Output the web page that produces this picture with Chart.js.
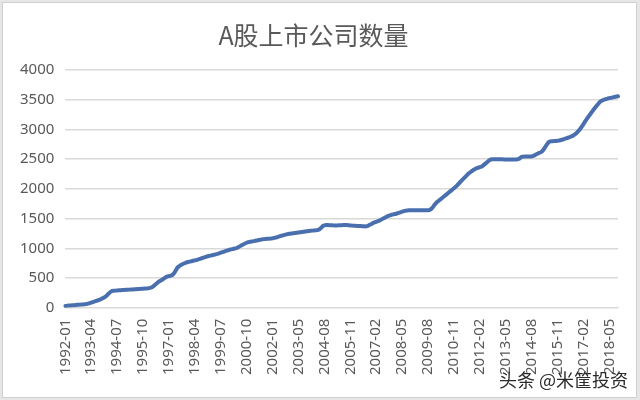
<!DOCTYPE html>
<html>
<head>
<meta charset="utf-8">
<script src="https://cdn.jsdelivr.net/npm/chart.js@4/dist/chart.umd.min.js"></script>
<style>
  body { margin: 0; background: #e6e6e6; }
  #frame { position: absolute; left: 2px; top: 2px; width: 633px; height: 394px; background: #fff; border: 1px solid #d0d0d0; }
  #wrap { position: absolute; left: 0; top: 0; width: 640px; height: 400px; }
  #mark { position: absolute; right: 12px; top: 366px; font: 18px "Noto Sans CJK SC", sans-serif; color: #2b2b2b; text-shadow: 0 0 2px #fff; }
</style>
</head>
<body>
<div id="frame"></div>
<div id="wrap"><canvas id="CountChart" width="640" height="400"></canvas></div>
<div id="mark">头条 @米筐投资</div>
<script>
// 月份：1992-01 ~ 2018-10（原数据缺 2002-12）
const years = [1992, 1993, 1994, 1995, 1996, 1997, 1998, 1999, 2000, 2001, 2002, 2003, 2004,
  2005, 2006, 2007, 2008, 2009, 2010, 2011, 2012, 2013, 2014, 2015, 2016, 2017, 2018];
const skipMonth = '2002-12';
const lastMonth = '2018-10';

// 每月上市公司数量
const counts = [
  30, 32, 35, 38, 40, 42, 45, 48, 50, 52, 55, 58,                      // 1992
  62, 68, 75, 85, 95, 105, 115, 125, 135, 150, 165, 180,               // 1993
  205, 235, 262, 280, 284, 287, 290, 292, 294, 296, 298, 300,          // 1994
  302, 304, 306, 308, 310, 312, 314, 316, 318, 320, 322, 324,          // 1995
  328, 334, 342, 360, 385, 410, 435, 452, 470, 490, 510, 525,          // 1996
  532, 537, 550, 580, 630, 678, 700, 720, 735, 748, 760, 768,          // 1997
  775, 782, 790, 797, 803, 812, 822, 832, 842, 852, 862, 870,          // 1998
  876, 883, 890, 898, 906, 915, 925, 935, 945, 955, 965, 975,          // 1999
  982, 988, 995, 1003, 1015, 1032, 1050, 1065, 1080, 1093, 1104, 1110, // 2000
  1115, 1120, 1126, 1132, 1138, 1144, 1150, 1154, 1157, 1159, 1161, 1164, // 2001
  1168, 1175, 1182, 1190, 1200, 1210, 1218, 1226, 1234, 1240, 1246,    // 2002
  1250, 1254, 1258, 1262, 1266, 1270, 1274, 1278, 1282, 1286, 1290, 1294, // 2003
  1297, 1300, 1303, 1308, 1315, 1340, 1373, 1385, 1390, 1390, 1389, 1388, // 2004
  1386, 1385, 1385, 1386, 1388, 1389, 1390, 1391, 1390, 1388, 1385, 1382, // 2005
  1380, 1378, 1376, 1375, 1374, 1372, 1370, 1368, 1375, 1390, 1405, 1422, // 2006
  1435, 1445, 1455, 1469, 1485, 1500, 1515, 1530, 1545, 1555, 1565, 1571, // 2007
  1575, 1585, 1595, 1605, 1615, 1625, 1632, 1636, 1639, 1640, 1640, 1640, // 2008
  1640, 1640, 1640, 1640, 1640, 1640, 1640, 1640, 1645, 1665, 1700, 1740, // 2009
  1772, 1795, 1818, 1842, 1866, 1890, 1914, 1938, 1962, 1986, 2010, 2034, // 2010
  2064, 2094, 2124, 2154, 2184, 2214, 2244, 2270, 2292, 2312, 2330, 2345, // 2011
  2355, 2365, 2373, 2395, 2420, 2445, 2470, 2490, 2498, 2500, 2500, 2500, // 2012
  2498, 2497, 2496, 2495, 2495, 2495, 2494, 2494, 2494, 2494, 2495, 2498, // 2013
  2510, 2535, 2542, 2543, 2543, 2543, 2543, 2545, 2555, 2570, 2585, 2600, // 2014
  2612, 2627, 2665, 2710, 2755, 2790, 2800, 2802, 2804, 2806, 2810, 2814, // 2015
  2822, 2830, 2840, 2850, 2860, 2870, 2881, 2895, 2915, 2940, 2970, 3005, // 2016
  3045, 3090, 3135, 3180, 3220, 3260, 3300, 3340, 3375, 3410, 3445, 3475, // 2017
  3490, 3500, 3510, 3520, 3527, 3532, 3540, 3547, 3553, 3559              // 2018
];

const yTicks = [0, 500, 1000, 1500, 2000, 2500, 3000, 3500, 4000];
const labelEvery = 15;

const labels = [];
for (const y of years) {
  for (let m = 1; m <= 12; m++) {
    const s = y + '-' + (m < 10 ? '0' + m : m);
    if (s === skipMonth) continue;
    labels.push(s);
    if (s === lastMonth) break;
  }
}

const ctx = document.getElementById('CountChart');
const myChart = new Chart(ctx, {
  type: 'line',
  data: {
    labels: labels,
    datasets: [{
      label: '上市公司数量',
      data: counts,
      borderColor: '#4a6fae',
      borderWidth: 4,
      borderCapStyle: 'round',
      borderJoinStyle: 'round',
      tension: 0,
      pointRadius: 0,
      fill: false
    }]
  },
  options: {
    responsive: false,
    animation: false,
    layout: { padding: { left: 9, right: 22, bottom: 14, top: 0 } },
    plugins: {
      legend: { display: false },
      tooltip: { enabled: false },
      title: {
        display: true,
        text: 'A股上市公司数量',
        color: '#595959',
        font: { family: '"Noto Sans CJK SC", sans-serif', size: 25, weight: 'normal' },
        padding: { top: 20, bottom: 20 }
      }
    },
    scales: {
      x: {
        offset: false,
        grid: { display: false, drawTicks: false },
        border: { display: true, color: '#d9d9d9' },
        ticks: {
          autoSkip: false,
          minRotation: 90,
          maxRotation: 90,
          padding: 11,
          color: '#595959',
          font: { family: '"Noto Sans", sans-serif', size: 15 },
          callback: function(v, i) { return i % labelEvery === 0 ? labels[i] : null; }
        }
      },
      y: {
        min: 0,
        max: 4000,
        afterBuildTicks: function(axis) { axis.ticks = yTicks.map(function(v){ return { value: v }; }); },
        grid: { color: '#d9d9d9', lineWidth: 1.5, drawTicks: false },
        border: { display: false },
        ticks: {
          padding: 11,
          color: '#595959',
          font: { family: '"Noto Sans", sans-serif', size: 15 },
          callback: function(v) { return String(v); }
        }
      }
    }
  }
});
</script>
</body>
</html>
